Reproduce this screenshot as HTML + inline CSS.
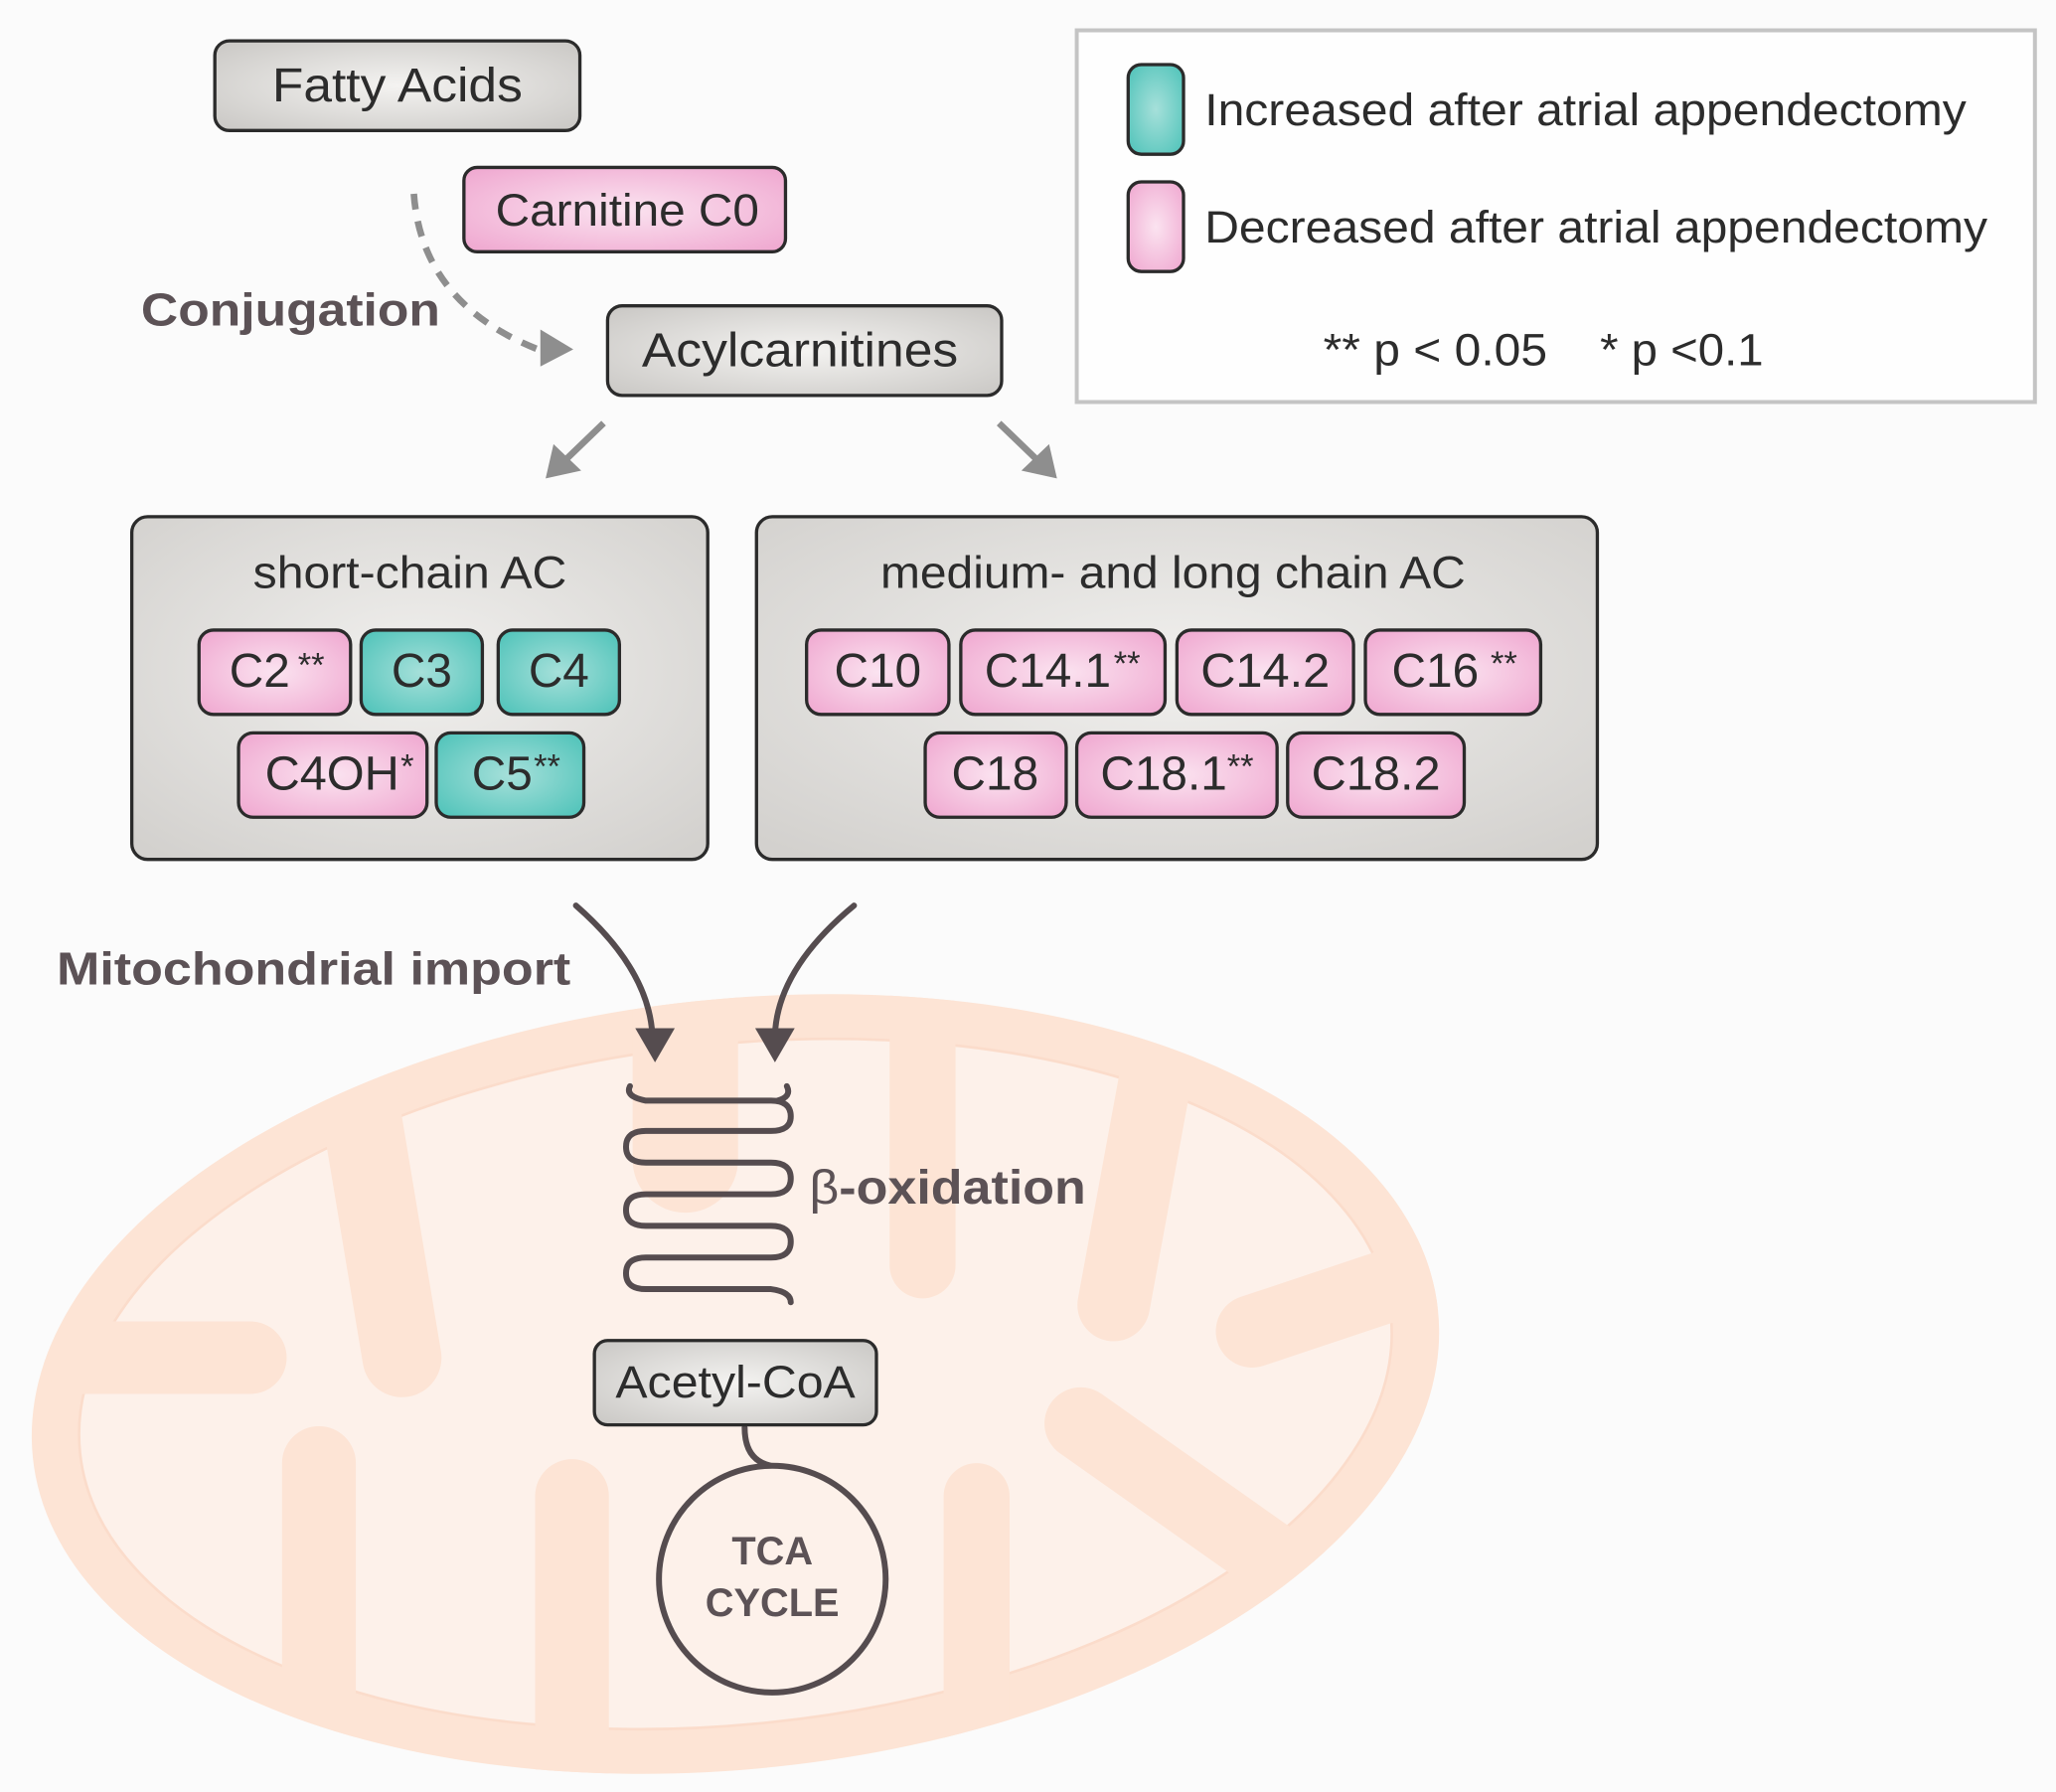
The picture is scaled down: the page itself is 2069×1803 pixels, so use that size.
<!DOCTYPE html>
<html><head><meta charset="utf-8"><style>
html,body{margin:0;padding:0;background:#fbfbfb;}
svg{display:block;}
text{font-family:"Liberation Sans",Arial,sans-serif;}
</style></head><body>
<svg width="2069" height="1803" viewBox="0 0 1560 1359.5" preserveAspectRatio="none" xmlns="http://www.w3.org/2000/svg">
<defs>
<radialGradient id="gr" cx="50%" cy="50%" r="70%"><stop offset="0" stop-color="#f4f3f1"/><stop offset="1" stop-color="#c9c7c4"/></radialGradient>
<radialGradient id="pk" cx="50%" cy="50%" r="70%"><stop offset="0" stop-color="#fbe3f0"/><stop offset="1" stop-color="#efa6cf"/></radialGradient>
<radialGradient id="tl" cx="50%" cy="50%" r="70%"><stop offset="0" stop-color="#a6e0da"/><stop offset="1" stop-color="#4cc2b8"/></radialGradient>
<radialGradient id="bg" cx="50%" cy="45%" r="70%"><stop offset="0" stop-color="#f1f0ee"/><stop offset="1" stop-color="#d3d1ce"/></radialGradient>
<clipPath id="mc"><ellipse cx="558" cy="1050" rx="536" ry="292" transform="rotate(-6 558 1050)"/></clipPath>
</defs>
<rect width="1560" height="1360" fill="#fbfbfb"/>

<!-- mitochondrion -->
<ellipse cx="558" cy="1050" rx="536" ry="292" transform="rotate(-6 558 1050)" fill="#fde4d5"/>
<ellipse cx="558" cy="1050" rx="500" ry="258" transform="rotate(-6 558 1050)" fill="#fdf1ea" stroke="#fbdccb" stroke-width="2"/>
<g clip-path="url(#mc)" stroke="#fde4d5" stroke-linecap="round" fill="none">
<line x1="242" y1="1400" x2="242" y2="1110" stroke-width="56"/>
<line x1="434" y1="1400" x2="434" y2="1135" stroke-width="56"/>
<line x1="741" y1="1400" x2="741" y2="1135" stroke-width="50"/>
<line x1="990" y1="1200" x2="820" y2="1080" stroke-width="55"/>
<line x1="520" y1="760" x2="520" y2="880" stroke-width="80"/>
<line x1="270" y1="820" x2="305" y2="1030" stroke-width="60"/>
<line x1="700" y1="760" x2="700" y2="960" stroke-width="50"/>
<line x1="880" y1="800" x2="845" y2="990" stroke-width="55"/>
<line x1="1100" y1="960" x2="950" y2="1010" stroke-width="55"/>
<line x1="60" y1="1030" x2="190" y2="1030" stroke-width="55"/>
</g>

<!-- legend -->
<rect x="817" y="23" width="727" height="282" fill="#fefefe" stroke="#c4c4c4" stroke-width="3"/>
<rect x="856" y="49" width="42" height="68" rx="10" fill="url(#tl)" stroke="#2b2b2b" stroke-width="2.5"/>
<rect x="856" y="138" width="42" height="68" rx="10" fill="url(#pk)" stroke="#2b2b2b" stroke-width="2.5"/>
<text x="914" y="95" font-size="34" fill="#2c2c2c" textLength="578" lengthAdjust="spacingAndGlyphs">Increased after atrial appendectomy</text>
<text x="914" y="184" font-size="34" fill="#2c2c2c" textLength="594" lengthAdjust="spacingAndGlyphs">Decreased after atrial appendectomy</text>
<text x="1004" y="277" font-size="34" fill="#2c2c2c" textLength="170" lengthAdjust="spacingAndGlyphs">** p &lt; 0.05</text>
<text x="1214" y="277" font-size="34" fill="#2c2c2c" textLength="124" lengthAdjust="spacingAndGlyphs">* p &lt;0.1</text>

<!-- top boxes -->
<rect x="163" y="31" width="277" height="68" rx="11" fill="url(#gr)" stroke="#2b2b2b" stroke-width="2.5"/>
<text x="301.5" y="77" font-size="36" text-anchor="middle" fill="#2c2c2c" textLength="190" lengthAdjust="spacingAndGlyphs">Fatty Acids</text>
<rect x="352" y="127" width="244" height="64" rx="10" fill="url(#pk)" stroke="#2b2b2b" stroke-width="2.5"/>
<text x="476" y="171" font-size="34" text-anchor="middle" fill="#2c2c2c" textLength="200" lengthAdjust="spacingAndGlyphs">Carnitine C0</text>
<rect x="461" y="232" width="299" height="68" rx="11" fill="url(#gr)" stroke="#2b2b2b" stroke-width="2.5"/>
<text x="607" y="278" font-size="36" text-anchor="middle" fill="#2c2c2c" textLength="240" lengthAdjust="spacingAndGlyphs">Acylcarnitines</text>

<text x="107" y="247" font-size="35" font-weight="bold" fill="#5c5256" textLength="227" lengthAdjust="spacingAndGlyphs">Conjugation</text>
<path d="M314 147 Q320 230 408 265" fill="none" stroke="#8e8e8e" stroke-width="5" stroke-dasharray="12 9"/>
<polygon points="410,250 435,265 410,278" fill="#8e8e8e"/>

<line x1="458" y1="321" x2="428" y2="350" stroke="#8e8e8e" stroke-width="5"/>
<polygon points="414,363 420,337 441,357" fill="#8e8e8e"/>
<line x1="758" y1="321" x2="788" y2="350" stroke="#8e8e8e" stroke-width="5"/>
<polygon points="802,363 796,337 775,357" fill="#8e8e8e"/>

<!-- group boxes -->
<rect x="100" y="392" width="437" height="260" rx="12" fill="url(#bg)" stroke="#2b2b2b" stroke-width="2.5"/>
<text x="311" y="446" font-size="34" text-anchor="middle" fill="#2c2c2c" textLength="238" lengthAdjust="spacingAndGlyphs">short-chain AC</text>
<rect x="574" y="392" width="638" height="260" rx="12" fill="url(#bg)" stroke="#2b2b2b" stroke-width="2.5"/>
<text x="890" y="446" font-size="34" text-anchor="middle" fill="#2c2c2c" textLength="444" lengthAdjust="spacingAndGlyphs">medium- and long chain AC</text>

<g stroke="#2b2b2b" stroke-width="2.5">
<rect x="151" y="478" width="115" height="64" rx="11" fill="url(#pk)"/>
<rect x="274" y="478" width="92" height="64" rx="11" fill="url(#tl)"/>
<rect x="378" y="478" width="92" height="64" rx="11" fill="url(#tl)"/>
<rect x="181" y="556" width="143" height="64" rx="11" fill="url(#pk)"/>
<rect x="331" y="556" width="112" height="64" rx="11" fill="url(#tl)"/>
<rect x="612" y="478" width="108" height="64" rx="11" fill="url(#pk)"/>
<rect x="729" y="478" width="155" height="64" rx="11" fill="url(#pk)"/>
<rect x="893" y="478" width="134" height="64" rx="11" fill="url(#pk)"/>
<rect x="1036" y="478" width="133" height="64" rx="11" fill="url(#pk)"/>
<rect x="702" y="556" width="107" height="64" rx="11" fill="url(#pk)"/>
<rect x="817" y="556" width="152" height="64" rx="11" fill="url(#pk)"/>
<rect x="977" y="556" width="134" height="64" rx="11" fill="url(#pk)"/>
</g>
<g font-size="36" fill="#2c2c2c">
<text x="174" y="521">C2<tspan font-size="26" dy="-8" dx="6">**</tspan></text>
<text x="320" y="521" text-anchor="middle">C3</text>
<text x="424" y="521" text-anchor="middle">C4</text>
<text x="201" y="599" textLength="102" lengthAdjust="spacingAndGlyphs">C4OH</text><text x="304" y="590" font-size="26">*</text>
<text x="358" y="599">C5</text><text x="405" y="590" font-size="26">**</text>
<text x="666" y="521" text-anchor="middle">C10</text>
<text x="747" y="521" textLength="96" lengthAdjust="spacingAndGlyphs">C14.1</text><text x="845" y="512" font-size="26">**</text>
<text x="960" y="521" text-anchor="middle" textLength="98" lengthAdjust="spacingAndGlyphs">C14.2</text>
<text x="1056" y="521">C16</text><text x="1131" y="512" font-size="26">**</text>
<text x="755" y="599" text-anchor="middle">C18</text>
<text x="835" y="599" textLength="96" lengthAdjust="spacingAndGlyphs">C18.1</text><text x="931" y="590" font-size="26">**</text>
<text x="1044" y="599" text-anchor="middle" textLength="98" lengthAdjust="spacingAndGlyphs">C18.2</text>
</g>

<!-- import -->
<text x="43" y="747" font-size="35" font-weight="bold" fill="#5c5256" textLength="390" lengthAdjust="spacingAndGlyphs">Mitochondrial import</text>
<g stroke="#554c4f" stroke-width="4.5" fill="none" stroke-linecap="round">
<path d="M437 687 Q492 735 495 785"/>
<path d="M648 687 Q590 735 588 785"/>
<path d="M478 824 Q474 832 490 835 L585 835 Q600 835 600 847 Q600 858 585 858 L490 858 Q475 858 475 870 Q475 882 490 882 L585 882 Q600 882 600 894 Q600 906 585 906 L490 906 Q475 906 475 918 Q475 930 490 930 L585 930 Q600 930 600 942 Q600 954 585 954 L490 954 Q475 954 475 966 Q475 978 490 978 L585 978 Q600 980 600 988"/>
<path d="M597 824 Q601 832 590 835"/>
<path d="M565 1083 Q565 1108 585 1112"/>
</g>
<polygon points="482,780 497,806 512,780" fill="#554c4f"/>
<polygon points="573,780 588,806 603,780" fill="#554c4f"/>
<text x="614" y="913" font-size="36" font-weight="bold" fill="#5c5256" textLength="210" lengthAdjust="spacingAndGlyphs"><tspan font-weight="normal">β</tspan>-oxidation</text>

<rect x="451" y="1017" width="214" height="64" rx="10" fill="url(#gr)" stroke="#2b2b2b" stroke-width="2.5"/>
<text x="558" y="1060" font-size="34" text-anchor="middle" fill="#2c2c2c" textLength="182" lengthAdjust="spacingAndGlyphs">Acetyl-CoA</text>

<ellipse cx="586" cy="1198" rx="86" ry="86" fill="#fdf1ea" stroke="#554c4f" stroke-width="4.5"/>
<text x="586" y="1187" font-size="30" font-weight="bold" text-anchor="middle" fill="#5c5256">TCA</text>
<text x="586" y="1226" font-size="30" font-weight="bold" text-anchor="middle" fill="#5c5256">CYCLE</text>
</svg>
</body></html>
